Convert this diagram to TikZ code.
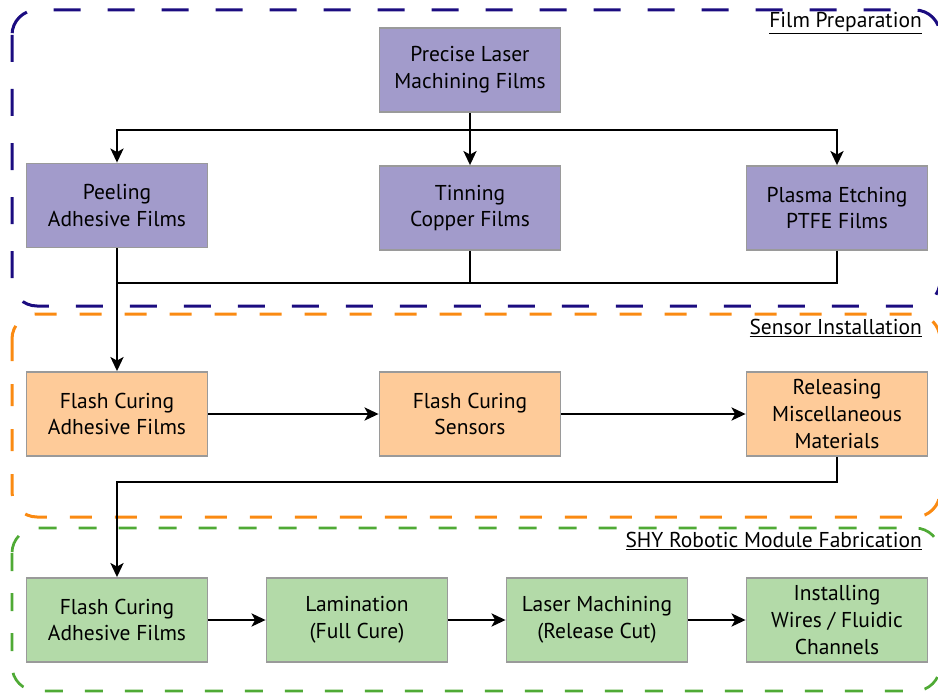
\documentclass[tikz,border=0pt]{standalone}
\usepackage{fontspec}
\setmainfont{PT Sans}
\usetikzlibrary{arrows.meta}
\definecolor{purp}{HTML}{A29BCB}
\definecolor{oran}{HTML}{FECB99}
\definecolor{gree}{HTML}{B3DAA8}
\definecolor{boxgray}{HTML}{9A9A9A}
\definecolor{secblue}{HTML}{1B0C80}
\definecolor{secorange}{HTML}{FA8A12}
\definecolor{secgreen}{HTML}{4FAA35}
\tikzset{
  box/.style={draw=boxgray, line width=1.8pt, minimum width=181pt, minimum height=84pt,
    inner sep=0pt, align=center, font=\fontsize{21.5}{26.8}\selectfont},
  prepbox/.style={box, fill=purp},
  sensbox/.style={box, fill=oran},
  fabbox/.style={box, fill=gree},
  conn/.style={line width=2.8pt, -{Stealth[length=14pt,width=13pt,inset=3.5pt]}},
  plainline/.style={line width=2.8pt},
  seclabel/.style={anchor=east, inner sep=0pt, font=\fontsize{21.5}{24}\selectfont},
  secframe/.style={line width=3pt, rounded corners=25pt}
}
\begin{document}
\begin{tikzpicture}[x=1pt,y=-1pt]
\useasboundingbox (0,0) rectangle (938,693);
% section frames
\draw[secframe, secblue, dash pattern=on 27pt off 27pt] (12,10) rectangle (940,306);
\draw[secframe, secorange, dash pattern=on 22pt off 23pt] (12,314) rectangle (940,517);
\draw[secframe, secgreen, line width=2.7pt, dash pattern=on 18pt off 22pt] (12,528) rectangle (940,691);
% section labels
\node[seclabel] (lab1) at (922,23) {\underline{Film Preparation}};
\node[seclabel] (lab2) at (922,328) {\underline{Sensor Installation}};
\node[seclabel] (lab3) at (922,541) {\underline{SHY Robotic Module Fabrication}};
% film preparation
\node[prepbox] (prec) at (470,70) {Precise Laser\\Machining Films};
\node[prepbox] (peel) at (117,205.5) {Peeling\\Adhesive Films};
\node[prepbox] (tin) at (470,208) {Tinning\\Copper Films};
\node[prepbox] (plas) at (837,208) {Plasma Etching\\PTFE Films};
% sensor installation
\node[sensbox] (fca) at (117,414) {Flash Curing\\Adhesive Films};
\node[sensbox] (fcs) at (470,414) {Flash Curing\\Sensors};
\node[sensbox] (rel) at (837,414) {Releasing\\Miscellaneous\\Materials};
% fabrication
\node[fabbox] (g1) at (117,620) {Flash Curing\\Adhesive Films};
\node[fabbox] (g2) at (357,620) {Lamination\\(Full Cure)};
\node[fabbox] (g3) at (597,620) {Laser Machining\\(Release Cut)};
\node[fabbox] (g4) at (837,620) {Installing\\Wires / Fluidic\\Channels};
% junction coordinates
\coordinate (ja) at (470,130);
\coordinate (jb) at (470,283);
\coordinate (jc) at (117,482);
% connectors
\draw[conn] (prec.south) -- (tin.north);
\draw[conn] (ja) -| (peel.north);
\draw[conn] (ja) -| (plas.north);
\draw[plainline] (tin.south) -- (jb);
\draw[plainline] (plas.south) |- (peel.south |- jb);
\draw[conn] (peel.south) -- (fca.north);
\draw[conn] (fca.east) -- (fcs.west);
\draw[conn] (fcs.east) -- (rel.west);
\draw[conn] (rel.south) |- (jc) -- (g1.north);
\draw[conn] (g1.east) -- (g2.west);
\draw[conn] (g2.east) -- (g3.west);
\draw[conn] (g3.east) -- (g4.west);
\end{tikzpicture}
\end{document}
